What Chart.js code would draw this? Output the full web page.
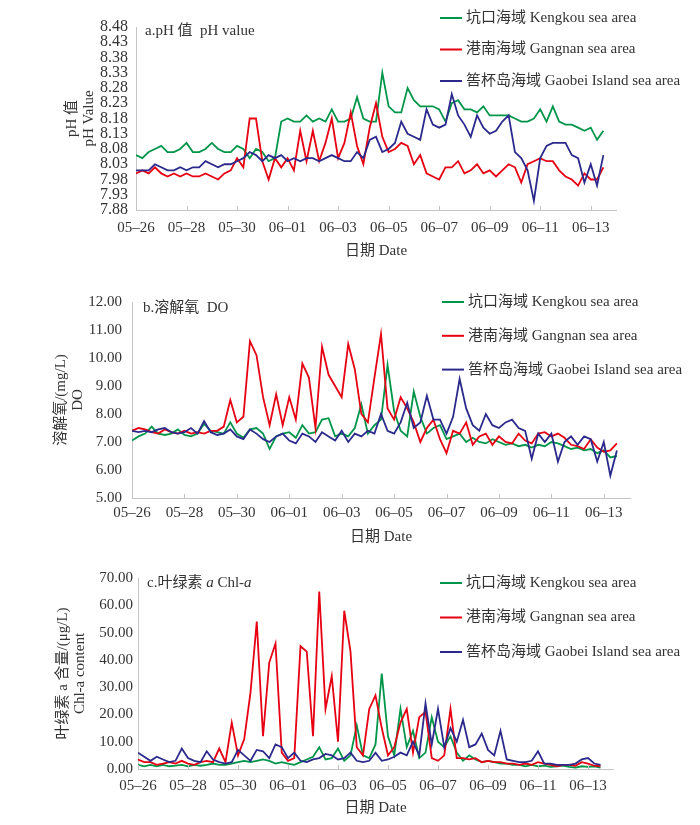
<!DOCTYPE html>
<html>
<head>
<meta charset="utf-8">
<script src="https://cdn.jsdelivr.net/npm/chart.js@4.4.1/dist/chart.umd.min.js"></script>
<style>
  html, body { margin: 0; padding: 0; background: #fff; }
  .panel { position: absolute; left: 0; width: 700px; }
</style>
</head>
<body>
<div class="panel" style="top:0;height:270px"><canvas id="chartPH"></canvas></div>
<div class="panel" style="top:280px;height:275px"><canvas id="chartDO"></canvas></div>
<div class="panel" style="top:560px;height:265px"><canvas id="chartChl"></canvas></div>
<script>
// Etiquetas del eje x (cada 2 días) y paso de muestreo de las series (días).
const DATE_LABELS = ['05–26', '05–28', '05–30', '06–01', '06–03', '06–05', '06–07', '06–09', '06–11', '06–13'];
const STEP_DAYS = 0.25;

// Nombres de las series.
const SERIES_NAMES = ['坑口海域 Kengkou sea area', '港南海域 Gangnan sea area', '筶杯岛海域 Gaobei Island sea area'];
const SERIES_COLORS = ['#00964a', '#e60012', '#2b2a8c'];

// a. pH
const PH_KENGKOU = [8.06, 8.05, 8.07, 8.08, 8.09, 8.07, 8.07, 8.08, 8.10, 8.07,
    8.07, 8.08, 8.10, 8.08, 8.07, 8.07, 8.09, 8.08, 8.05, 8.08,
    8.07, 8.04, 8.05, 8.17, 8.18, 8.17, 8.17, 8.19, 8.17, 8.18,
    8.17, 8.21, 8.17, 8.17, 8.18, 8.25, 8.18, 8.17, 8.17, 8.33,
    8.22, 8.20, 8.20, 8.28, 8.24, 8.22, 8.22, 8.22, 8.21, 8.17,
    8.23, 8.24, 8.21, 8.21, 8.20, 8.22, 8.19, 8.19, 8.19, 8.19,
    8.18, 8.17, 8.17, 8.18, 8.21, 8.17, 8.22, 8.17, 8.16, 8.16,
    8.15, 8.14, 8.15, 8.11, 8.14];
const PH_GANGNAN = [8.00, 8.01, 8.00, 8.02, 8.00, 7.99, 8.00, 7.99, 8.00, 7.99,
    7.99, 8.00, 7.99, 7.98, 8.00, 8.01, 8.05, 8.02, 8.18, 8.18,
    8.04, 7.98, 8.05, 8.02, 8.05, 8.01, 8.14, 8.04, 8.14, 8.04,
    8.10, 8.18, 8.05, 8.10, 8.20, 8.09, 8.03, 8.15, 8.23, 8.12,
    8.07, 8.08, 8.10, 8.09, 8.03, 8.06, 8.00, 7.99, 7.98, 8.02,
    8.02, 8.04, 8.00, 8.01, 8.03, 8.00, 8.01, 7.99, 8.01, 8.03,
    8.02, 7.97, 8.03, 8.04, 8.05, 8.04, 8.04, 8.01, 7.99, 7.98,
    7.96, 8.00, 7.98, 7.98, 8.02];
const PH_GAOBEI = [8.01, 8.01, 8.01, 8.03, 8.02, 8.01, 8.01, 8.02, 8.01, 8.02,
    8.02, 8.04, 8.03, 8.02, 8.03, 8.03, 8.04, 8.05, 8.07, 8.06,
    8.04, 8.06, 8.05, 8.06, 8.04, 8.05, 8.04, 8.05, 8.05, 8.04,
    8.05, 8.06, 8.05, 8.04, 8.04, 8.07, 8.05, 8.11, 8.12, 8.07,
    8.08, 8.10, 8.17, 8.13, 8.12, 8.11, 8.21, 8.16, 8.15, 8.16,
    8.26, 8.19, 8.16, 8.12, 8.19, 8.15, 8.13, 8.14, 8.17, 8.19,
    8.07, 8.05, 8.01, 7.91, 8.05, 8.09, 8.10, 8.10, 8.10, 8.06,
    8.05, 7.97, 8.03, 7.96, 8.06];

// b. Oxígeno disuelto
const DO_KENGKOU = [7.05, 7.20, 7.30, 7.55, 7.30, 7.25, 7.30, 7.45, 7.25, 7.20,
    7.30, 7.65, 7.40, 7.35, 7.30, 7.70, 7.30, 7.15, 7.45, 7.50,
    7.30, 6.75, 7.20, 7.30, 7.35, 7.15, 7.60, 7.30, 7.35, 7.80,
    7.85, 7.20, 7.30, 7.20, 7.50, 8.35, 7.30, 7.60, 7.80, 9.75,
    8.10, 7.40, 7.20, 8.80, 7.90, 7.30, 7.50, 7.60, 7.10, 7.20,
    7.30, 7.00, 7.15, 7.00, 6.95, 7.10, 7.00, 6.90, 6.95, 6.85,
    6.90, 6.80, 6.90, 6.85, 7.00, 6.95, 6.85, 6.75, 6.80, 6.70,
    6.75, 6.60, 6.70, 6.45, 6.50];
const DO_GANGNAN = [7.40, 7.50, 7.45, 7.35, 7.30, 7.45, 7.35, 7.30, 7.40, 7.30,
    7.35, 7.30, 7.40, 7.40, 7.55, 8.50, 7.70, 7.90, 10.60, 10.10,
    8.60, 7.60, 8.70, 7.60, 8.60, 7.80, 9.80, 9.30, 7.50, 10.40,
    9.40, 9.00, 8.60, 10.50, 9.60, 8.00, 7.70, 9.30, 10.85, 8.20,
    7.80, 8.60, 8.20, 7.70, 7.00, 7.50, 7.80, 7.10, 6.60, 7.40,
    7.30, 7.70, 6.90, 7.20, 7.30, 6.90, 7.20, 7.00, 6.95, 7.30,
    7.05, 6.95, 7.30, 7.35, 7.20, 7.30, 7.15, 6.90, 6.85, 6.75,
    7.10, 6.80, 6.65, 6.70, 6.95];
const DO_GAOBEI = [7.40, 7.35, 7.40, 7.35, 7.45, 7.50, 7.35, 7.30, 7.35, 7.50,
    7.30, 7.75, 7.35, 7.25, 7.30, 7.45, 7.20, 7.10, 7.45, 7.30,
    7.10, 7.00, 7.20, 7.30, 7.05, 6.95, 7.30, 7.20, 7.00, 7.35,
    7.20, 7.05, 7.40, 7.00, 7.30, 7.20, 7.40, 7.30, 8.00, 7.40,
    7.30, 7.70, 8.40, 7.50, 7.70, 8.65, 7.80, 7.80, 7.30, 7.90,
    9.25, 8.20, 7.60, 7.40, 8.00, 7.60, 7.50, 7.70, 7.80, 7.50,
    7.40, 6.40, 7.30, 7.00, 7.30, 6.30, 7.00, 7.20, 6.90, 7.20,
    7.10, 6.30, 7.00, 5.80, 6.70];

// c. Clorofila a
const CHL_KENGKOU = [1.5, 1.0, 1.5, 1.0, 1.5, 1.0, 1.2, 1.5, 1.0, 1.5,
    1.2, 1.5, 2.0, 1.5, 1.5, 2.0, 2.5, 3.0, 2.5, 3.0,
    3.5, 3.0, 2.0, 2.5, 2.0, 1.5, 2.5, 3.5, 4.5, 8.0,
    3.5, 4.0, 7.5, 3.0, 5.0, 16.0, 5.0, 4.0, 9.0, 35.0,
    12.0, 5.0, 22.0, 8.0, 14.0, 4.0, 6.0, 19.0, 10.0, 8.0,
    12.0, 6.0, 3.0, 5.0, 3.5, 2.5, 3.0, 2.5, 2.0, 2.0,
    1.5, 1.5, 1.0, 1.5, 1.0, 1.2, 0.8, 1.0, 1.2, 0.8,
    0.5, 1.0, 0.8, 1.0, 0.5];
const CHL_GANGNAN = [3.5, 2.5, 2.5, 1.5, 2.0, 2.5, 2.0, 3.0, 2.0, 1.5,
    2.5, 3.0, 2.5, 7.5, 2.5, 17.0, 5.0, 11.0, 28.0, 54.0,
    12.0, 39.0, 46.0, 6.0, 3.0, 4.0, 45.0, 43.0, 12.0, 65.0,
    22.0, 34.0, 10.0, 58.0, 43.0, 8.0, 5.0, 22.0, 27.0, 15.0,
    5.0, 8.0, 17.0, 22.0, 6.0, 19.0, 21.0, 4.0, 3.0, 5.0,
    22.0, 4.0, 4.0, 3.5, 4.0, 2.5, 3.0, 2.5, 2.5, 2.0,
    2.0, 1.5, 2.0, 1.5, 2.5, 2.0, 1.5, 1.0, 1.5, 1.5,
    1.2, 2.5, 2.0, 1.2, 1.0];
const CHL_GAOBEI = [6.0, 4.5, 3.0, 4.5, 3.5, 2.5, 3.0, 7.5, 4.0, 3.0,
    2.5, 6.5, 3.5, 2.5, 2.0, 2.5, 7.0, 5.0, 3.0, 7.0,
    6.5, 4.0, 9.0, 8.0, 4.0, 6.0, 3.0, 2.5, 3.5, 4.0,
    5.5, 5.0, 3.5, 4.0, 6.0, 3.0, 2.5, 3.0, 6.0, 3.0,
    3.5, 4.5, 6.0, 5.0, 10.0, 5.0, 24.0, 9.0, 22.0, 8.0,
    15.0, 10.0, 18.0, 8.0, 9.0, 13.0, 7.0, 5.0, 14.0, 3.5,
    3.0, 2.5, 2.5, 3.0, 6.5, 2.0, 2.0, 1.5, 1.5, 1.5,
    2.0, 3.5, 4.0, 2.0, 1.5];

const SERIF = '"Liberation Serif", "Times New Roman", "Noto Sans CJK SC", serif';
const TEXT_COLOR = '#333333';
const AXIS_COLOR = '#c4c4c4';

/*
*   Plugin para dibujar la etiqueta del panel, la leyenda y las marcas interiores del eje x.
*/
const panelDecor = {
    id: 'panelDecor',
    afterDraw(chart, args, opts) {
        const ctx = chart.ctx;
        ctx.save();
        ctx.fillStyle = TEXT_COLOR;
        ctx.textBaseline = 'middle';
        ctx.textAlign = 'left';
        // Etiqueta del panel (con partes en cursiva).
        let x = opts.labelX;
        opts.label.forEach(part => {
            ctx.font = `${part.italic ? 'italic ' : ''}15px ${SERIF}`;
            ctx.fillText(part.text, x, opts.labelY);
            x += ctx.measureText(part.text).width;
        });
        // Leyenda.
        ctx.font = `15px ${SERIF}`;
        chart.data.datasets.forEach((ds, i) => {
            const y = opts.legendY + i * opts.legendGap;
            ctx.strokeStyle = ds.borderColor;
            ctx.lineWidth = 2;
            ctx.beginPath();
            ctx.moveTo(opts.legendX, y);
            ctx.lineTo(opts.legendX + 22, y);
            ctx.stroke();
            ctx.fillStyle = TEXT_COLOR;
            ctx.fillText(ds.label, opts.legendX + 26, y);
        });
        // Marcas interiores del eje x.
        const xs = chart.scales.x;
        const bottom = chart.chartArea.bottom;
        ctx.strokeStyle = AXIS_COLOR;
        ctx.lineWidth = 1;
        xs.ticks.forEach(t => {
            const px = Math.round(xs.getPixelForValue(t.value)) + 0.5;
            ctx.beginPath();
            ctx.moveTo(px, bottom - 4);
            ctx.lineTo(px, bottom);
            ctx.stroke();
        });
        ctx.restore();
    }
};

const toPoints = (values) => values.map((v, i) => ({ x: i * STEP_DAYS, y: v }));

/*
*   Función para generar un gráfico de líneas de un panel.
*/
const lineGraph = (canvas, series, cfg) => {
    const context = document.getElementById(canvas).getContext('2d');
    const orders = [2, 1, 0];
    return new Chart(context, {
        type: 'line',
        data: {
            datasets: series.map((values, i) => ({
                label: SERIES_NAMES[i],
                data: toPoints(values),
                borderColor: SERIES_COLORS[i],
                backgroundColor: SERIES_COLORS[i],
                borderWidth: 1.8,
                pointRadius: 0,
                tension: 0,
                fill: false,
                order: orders[i]
            }))
        },
        options: {
            responsive: true,
            maintainAspectRatio: false,
            animation: false,
            layout: { padding: cfg.padding },
            plugins: {
                legend: { display: false },
                tooltip: { enabled: false },
                panelDecor: cfg.decor
            },
            scales: {
                x: {
                    type: 'linear',
                    min: 0,
                    max: 19,
                    afterFit: (scale) => { scale.height = cfg.xHeight; },
                    grid: { display: false, drawTicks: false },
                    border: { display: true, color: AXIS_COLOR, width: 1 },
                    ticks: {
                        stepSize: 2,
                        includeBounds: false,
                        autoSkip: false,
                        maxRotation: 0,
                        padding: cfg.xTickPad,
                        color: TEXT_COLOR,
                        font: { family: SERIF, size: 15 },
                        callback: (v) => DATE_LABELS[v / 2] ?? ''
                    },
                    title: {
                        display: true,
                        text: '日期 Date',
                        color: TEXT_COLOR,
                        font: { family: SERIF, size: 15 },
                        padding: { top: 0, bottom: cfg.xTitlePad }
                    }
                },
                y: {
                    min: cfg.yMin,
                    max: cfg.yMax,
                    afterFit: (scale) => { scale.width = cfg.yWidth; },
                    grid: { display: false, drawTicks: false },
                    border: { display: true, color: AXIS_COLOR, width: 1 },
                    ticks: {
                        stepSize: cfg.yStep,
                        autoSkip: false,
                        padding: cfg.yTickPad,
                        color: TEXT_COLOR,
                        font: { family: SERIF, size: cfg.yFont },
                        callback: (v) => Number(v).toFixed(2)
                    },
                    title: {
                        display: true,
                        text: cfg.yTitle,
                        color: TEXT_COLOR,
                        font: { family: SERIF, size: 15, lineHeight: 1.1 },
                        padding: { top: 4, bottom: 4 }
                    }
                }
            }
        },
        plugins: [panelDecor]
    });
};

lineGraph('chartPH', [PH_KENGKOU, PH_GANGNAN, PH_GAOBEI], {
    padding: { left: 60, right: 84, top: 27, bottom: 0 },
    xHeight: 60, xTickPad: 9, xTitlePad: 10,
    yWidth: 76, yTickPad: 8, yFont: 16,
    yMin: 7.88, yMax: 8.48, yStep: 0.05,
    yTitle: ['pH 值', 'pH Value'],
    decor: {
        label: [{ text: 'a.pH 值  pH value' }], labelX: 145, labelY: 31,
        legendX: 440, legendY: 18, legendGap: 31.5
    }
});

lineGraph('chartDO', [DO_KENGKOU, DO_GANGNAN, DO_GAOBEI], {
    padding: { left: 49, right: 70, top: 22, bottom: 0 },
    xHeight: 57, xTickPad: 6, xTitlePad: 9,
    yWidth: 83, yTickPad: 10, yFont: 15,
    yMin: 5, yMax: 12, yStep: 1,
    yTitle: ['溶解氧/(mg/L)', 'DO'],
    decor: {
        label: [{ text: 'b.溶解氧  DO' }], labelX: 143, labelY: 28,
        legendX: 442, legendY: 22, legendGap: 33.8
    }
});

lineGraph('chartChl', [CHL_KENGKOU, CHL_GANGNAN, CHL_GAOBEI], {
    padding: { left: 51, right: 87, top: 18, bottom: 0 },
    xHeight: 56, xTickPad: 8, xTitlePad: 8,
    yWidth: 87, yTickPad: 5, yFont: 15,
    yMin: 0, yMax: 70, yStep: 10,
    yTitle: ['叶绿素 a 含量/(μg/L)', 'Chl-a content'],
    decor: {
        label: [{ text: 'c.叶绿素 ' }, { text: 'a', italic: true }, { text: ' Chl-' }, { text: 'a', italic: true }],
        labelX: 147, labelY: 23,
        legendX: 440, legendY: 23, legendGap: 34.5
    }
});
</script>
</body>
</html>
